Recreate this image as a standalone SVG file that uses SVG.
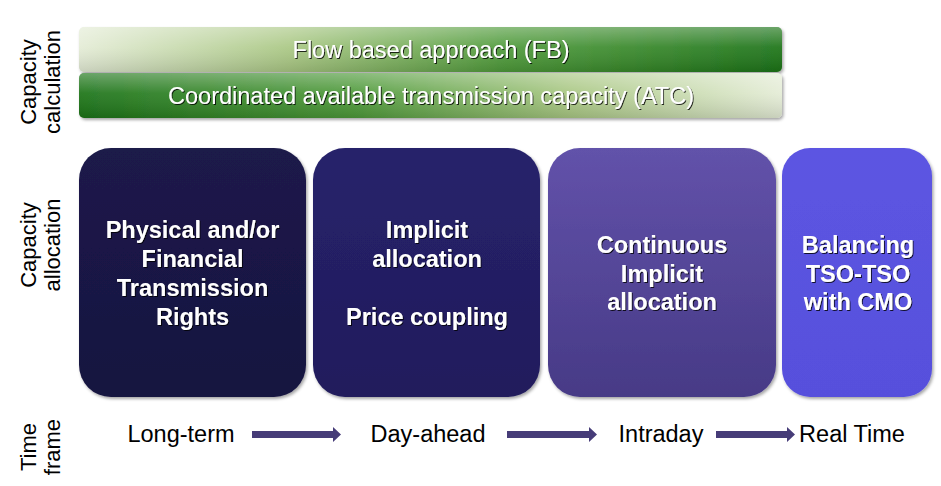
<svg xmlns="http://www.w3.org/2000/svg" width="941" height="486" viewBox="0 0 941 486">
<style>
.lbl{font-family:"Liberation Sans",Arial,sans-serif;font-size:22px;fill:#000}
.bar{font-family:"Liberation Sans",Arial,sans-serif;font-size:23.5px;fill:#fff;text-anchor:middle}
.box{font-family:"Liberation Sans",Arial,sans-serif;font-size:23.5px;font-weight:bold;fill:#fff;text-anchor:middle}
.tf{font-family:"Liberation Sans",Arial,sans-serif;font-size:23.5px;fill:#000;text-anchor:middle}
.arr{fill:#463c78}
</style>
<defs>
<linearGradient id="gFB" x1="0" y1="0" x2="1" y2="0">
<stop offset="0" stop-color="#e4ecd6"/>
<stop offset="0.3" stop-color="#a9c783"/>
<stop offset="0.6" stop-color="#4f9a3a"/>
<stop offset="1" stop-color="#1c7318"/>
</linearGradient>
<linearGradient id="gATC" x1="0" y1="0" x2="1" y2="0">
<stop offset="0" stop-color="#1c7318"/>
<stop offset="0.4" stop-color="#4f9a3a"/>
<stop offset="0.7" stop-color="#a9c783"/>
<stop offset="1" stop-color="#e4ecd6"/>
</linearGradient>
<linearGradient id="gGloss" x1="0" y1="0" x2="0" y2="1">
<stop offset="0" stop-color="#fff" stop-opacity="0.35"/>
<stop offset="0.45" stop-color="#fff" stop-opacity="0.08"/>
<stop offset="1" stop-color="#000" stop-opacity="0.12"/>
</linearGradient>
<linearGradient id="g1" x1="0" y1="0" x2="0" y2="1">
<stop offset="0" stop-color="#1c1a4a"/>
<stop offset="1" stop-color="#171440"/>
</linearGradient>
<linearGradient id="g2" x1="0" y1="0" x2="0" y2="1">
<stop offset="0" stop-color="#27226b"/>
<stop offset="1" stop-color="#211c5c"/>
</linearGradient>
<linearGradient id="g3" x1="0" y1="0" x2="0" y2="1">
<stop offset="0" stop-color="#6252aa"/>
<stop offset="1" stop-color="#473a86"/>
</linearGradient>
<linearGradient id="g4" x1="0" y1="0" x2="0" y2="1">
<stop offset="0" stop-color="#5c55e2"/>
<stop offset="1" stop-color="#5750dc"/>
</linearGradient>
<filter id="sh" x="-10%" y="-10%" width="130%" height="130%">
<feDropShadow dx="1.5" dy="2" stdDeviation="1.5" flood-color="#000" flood-opacity="0.35"/>
</filter>
<filter id="ts" x="-5%" y="-20%" width="110%" height="140%">
<feDropShadow dx="1" dy="1" stdDeviation="0.6" flood-color="#000" flood-opacity="0.8"/>
</filter>
</defs>

<g id="labels">
<text class="lbl" transform="translate(36,82) rotate(-90)" text-anchor="middle">Capacity</text>
<text class="lbl" transform="translate(60,82) rotate(-90)" text-anchor="middle">calculation</text>
<text class="lbl" transform="translate(36,245) rotate(-90)" text-anchor="middle">Capacity</text>
<text class="lbl" transform="translate(60,245) rotate(-90)" text-anchor="middle">allocation</text>
<text class="lbl" transform="translate(36,447) rotate(-90)" text-anchor="middle">Time</text>
<text class="lbl" transform="translate(60,447) rotate(-90)" text-anchor="middle">frame</text>
</g>

<g id="fb">
<rect x="79" y="27" width="703" height="45" rx="5" fill="url(#gFB)" filter="url(#sh)"/>
<rect x="79" y="27" width="703" height="45" rx="5" fill="url(#gGloss)"/>
<text class="bar" x="431" y="58" filter="url(#ts)">Flow based approach (FB)</text>
</g>
<g id="atc">
<rect x="79" y="73" width="703" height="45" rx="5" fill="url(#gATC)" filter="url(#sh)"/>
<rect x="79" y="73" width="703" height="45" rx="5" fill="url(#gGloss)"/>
<text class="bar" x="431" y="104" filter="url(#ts)">Coordinated available transmission capacity (ATC)</text>
</g>

<g id="box1">
<rect x="79" y="148" width="227" height="249" rx="32" fill="url(#g1)" filter="url(#sh)"/>
<text class="box" x="192.5" filter="url(#ts)"><tspan x="192.5" y="238">Physical and/or</tspan><tspan x="192.5" y="267">Financial</tspan><tspan x="192.5" y="296">Transmission</tspan><tspan x="192.5" y="325">Rights</tspan></text>
</g>
<g id="box2">
<rect x="313" y="148" width="227" height="249" rx="32" fill="url(#g2)" filter="url(#sh)"/>
<text class="box" filter="url(#ts)"><tspan x="427" y="238">Implicit</tspan><tspan x="427" y="267">allocation</tspan><tspan x="427" y="325">Price coupling</tspan></text>
</g>
<g id="box3">
<rect x="548" y="148" width="228" height="249" rx="32" fill="url(#g3)" filter="url(#sh)"/>
<text class="box" filter="url(#ts)"><tspan x="662" y="253">Continuous</tspan><tspan x="662" y="282">Implicit</tspan><tspan x="662" y="310">allocation</tspan></text>
</g>
<g id="box4">
<rect x="782" y="148" width="150" height="249" rx="28" fill="url(#g4)" filter="url(#sh)"/>
<text class="box" filter="url(#ts)"><tspan x="858" y="253">Balancing</tspan><tspan x="858" y="282">TSO-TSO</tspan><tspan x="858" y="310">with CMO</tspan></text>
</g>

<g id="t1"><text class="tf" x="181" y="442">Long-term</text></g>
<g id="t2"><text class="tf" x="428" y="442">Day-ahead</text></g>
<g id="t3"><text class="tf" x="661" y="442">Intraday</text></g>
<g id="t4"><text class="tf" x="852" y="442">Real Time</text></g>

<g id="connectors">
<path class="arr" d="M252,431 H333 V427 L341,434.5 L333,442 V438 H252 Z"/>
<path class="arr" d="M507,431 H589 V427 L597,434.5 L589,442 V438 H507 Z"/>
<path class="arr" d="M716,431 H787 V427 L795,434.5 L787,442 V438 H716 Z"/>
</g>
</svg>
